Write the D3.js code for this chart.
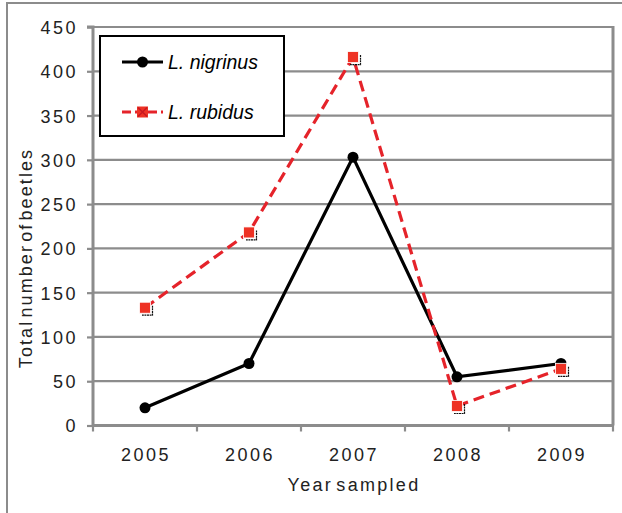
<!DOCTYPE html>
<html><head><meta charset="utf-8">
<script src="https://cdn.jsdelivr.net/npm/d3@7"></script>
<style>body{margin:0;background:#fff}svg{display:block}</style>
</head><body>
<svg id="c" width="622" height="513"></svg>
<script>
const years = ["2005","2006","2007","2008","2009"];
const nigrinus = [20, 70, 303, 55, 70];
const rubidus = [133, 218, 416, 22, 64];
const yTicks = [0,50,100,150,200,250,300,350,400,450];
const seriesNames = ["L. nigrinus","L. rubidus"];

const svg = d3.select("#c");
const W=622,H=513;
const m={left:93,top:27,right:613,bottom:425.5};
const x = d3.scaleBand().domain(years).range([m.left,m.right]);
const y = d3.scaleLinear().domain([0,450]).range([m.bottom,m.top]);
const grey="#8c8c8c", red="#e5232a", font="'Liberation Sans',Arial,sans-serif";

// outer frame
svg.append("rect").attr("x",7).attr("y",3).attr("width",W+20).attr("height",H+20)
  .attr("fill","none").attr("stroke",grey).attr("stroke-width",2);

// gridlines
svg.append("g").selectAll("line").data(yTicks.filter(d=>d>0)).join("line")
  .attr("x1",m.left).attr("x2",m.right).attr("y1",d=>y(d)).attr("y2",d=>y(d))
  .attr("stroke",grey).attr("stroke-width",2.2);
// right border
svg.append("line").attr("x1",m.right).attr("x2",m.right).attr("y1",m.top-1).attr("y2",m.bottom)
  .attr("stroke",grey).attr("stroke-width",3);

// y axis
const ya = svg.append("g").attr("transform",`translate(${m.left},0)`)
  .call(d3.axisLeft(y).tickValues(yTicks).tickSize(6).tickPadding(9));
ya.select(".domain").attr("stroke",grey).attr("stroke-width",3).attr("d",`M-6,${m.top}H0V${m.bottom}`);
ya.selectAll(".tick line").attr("stroke",grey).attr("stroke-width",2.2);
ya.selectAll(".tick text").attr("font-family",font).attr("font-size",18).attr("fill","#222")
  .attr("letter-spacing","2.5px").attr("dy","0.36em");

// x axis
const xa = svg.append("g").attr("transform",`translate(0,${m.bottom})`)
  .call(d3.axisBottom(x).tickSize(0).tickPadding(23));
xa.select(".domain").remove();
xa.append("line").attr("x1",m.left-1).attr("x2",m.right+1).attr("y1",0).attr("y2",0)
  .attr("stroke",grey).attr("stroke-width",3);
const bounds = years.map(d=>x(d)).concat([m.right]);
xa.selectAll(".bt").data(bounds).join("line").attr("class","bt")
  .attr("x1",d=>d).attr("x2",d=>d).attr("y1",0).attr("y2",6)
  .attr("stroke",grey).attr("stroke-width",2.2);
xa.selectAll(".tick text").attr("font-family",font).attr("font-size",18).attr("fill","#222")
  .attr("letter-spacing","2.5px").attr("dy","0.71em").attr("dx","1px");

// axis titles
svg.append("text").attr("x",354).attr("y",491).attr("text-anchor","middle")
  .attr("font-family",font).attr("font-size",18).attr("fill","#222").attr("letter-spacing","2.3px")
  .attr("word-spacing","-4px").text("Year sampled");
svg.append("text").attr("transform","translate(32,258) rotate(-90)").attr("text-anchor","middle")
  .attr("font-family",font).attr("font-size",18).attr("fill","#222").attr("letter-spacing","2.1px")
  .attr("word-spacing","-5px").text("Total number of beetles");

const cx = d=>x(d)+x.bandwidth()/2;
const line = d3.line().x((d,i)=>cx(years[i])).y(d=>y(d));

// series
svg.append("path").datum(nigrinus).attr("d",line).attr("fill","none")
  .attr("stroke","#000").attr("stroke-width",3.2);
svg.append("path").datum(rubidus).attr("d",line).attr("fill","none")
  .attr("stroke",red).attr("stroke-width",3.2).attr("stroke-dasharray","11,6");

// markers
svg.append("g").selectAll("circle").data(nigrinus).join("circle")
  .attr("cx",(d,i)=>cx(years[i])).attr("cy",d=>y(d)).attr("r",5.5).attr("fill","#000");
svg.append("g").selectAll("path").data(rubidus).join("path")
  .attr("d",(d,i)=>{const px=cx(years[i]),py=y(d);return `M${px+7.5},${py-2}V${py+7.5}H${px-3}`;})
  .attr("fill","none").attr("stroke","#111").attr("stroke-width",1.2).attr("stroke-dasharray","2,0.6");
svg.append("g").selectAll("rect").data(rubidus).join("rect")
  .attr("x",(d,i)=>cx(years[i])-5.5).attr("y",d=>y(d)-5.5).attr("width",11).attr("height",11)
  .attr("fill","#ee3224").attr("stroke","#fff").attr("stroke-width",0.8);

// legend
const lg = svg.append("g");
lg.append("rect").attr("x",100).attr("y",36).attr("width",184).attr("height",100)
  .attr("fill","#fff").attr("stroke","#000").attr("stroke-width",2);
const ly=[62,112];
lg.append("line").attr("x1",122).attr("x2",163).attr("y1",ly[0]).attr("y2",ly[0]).attr("stroke","#000").attr("stroke-width",3.2);
lg.append("circle").attr("cx",142.5).attr("cy",ly[0]).attr("r",5.5).attr("fill","#000");
lg.append("line").attr("x1",122).attr("x2",163).attr("y1",ly[1]).attr("y2",ly[1]).attr("stroke",red).attr("stroke-width",3.2).attr("stroke-dasharray","9,4");
lg.append("rect").attr("x",137).attr("y",ly[1]-5.5).attr("width",11).attr("height",11).attr("fill","#ee3224");
lg.append("path").attr("d",`M138,${ly[1]-4.5}L147,${ly[1]+4.5}M147,${ly[1]-4.5}L138,${ly[1]+4.5}`).attr("stroke","#c81820").attr("stroke-width",1.5);
lg.selectAll(".lt").data(seriesNames).join("text").attr("class","lt")
  .attr("x",168).attr("y",(d,i)=>ly[i]).attr("dy","0.36em")
  .attr("font-family",font).attr("font-style","italic")
  .attr("font-size",19.5).attr("fill","#000").text(d=>d);
</script>
</body></html>
